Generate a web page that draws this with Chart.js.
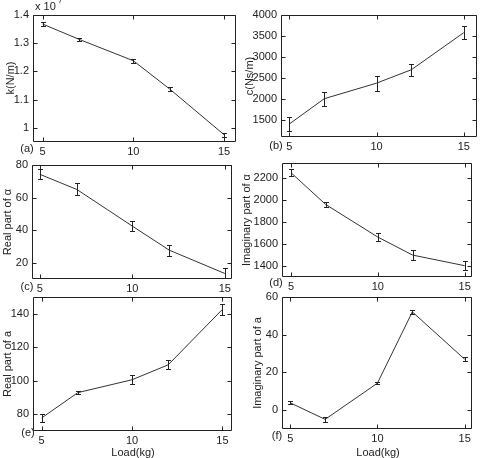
<!DOCTYPE html>
<html>
<head>
<meta charset="utf-8">
<script src="https://cdn.jsdelivr.net/npm/chart.js@4.4.1/dist/chart.umd.min.js"></script>
<style>
html, body { margin: 0; padding: 0; background: #fff; }
#figure { position: relative; width: 483px; height: 458px; overflow: hidden; background: #fff; }
#figure canvas { position: absolute; }
</style>
</head>
<body>
<div id="figure"></div>
<script>
var loads = [5, 7, 10, 12, 15];
var xTicks = [5, 10, 15];

var kValues = [1.368, 1.314, 1.238, 1.138, 0.976];   // x 10^7
var kErrors = [0.007, 0.005, 0.007, 0.007, 0.007];

var cValues = [1410, 2010, 2380, 2700, 3580];
var cErrors = [170, 170, 175, 140, 150];

var realAlpha = [74.3, 65.0, 42.5, 27.7, 13.4];
var realAlphaErr = [3, 3.7, 3, 3.4, 3.5];

var imagAlpha = [2251, 1961, 1664, 1500, 1403];
var imagAlphaErr = [32, 20, 40, 45, 40];

var realA = [77.8, 92.9, 100.6, 109.5, 142.6];
var realAErr = [2.5, 1, 2.8, 2.7, 3.3];

var imagA = [3.9, -4.9, 14.3, 52.1, 27.0];
var imagAErr = [0.8, 1.3, 0.6, 0.9, 1];

var kTicks = [1, 1.1, 1.2, 1.3, 1.4];
var cTicks = [1500, 2000, 2500, 3000, 3500, 4000];
var realAlphaTicks = [20, 40, 60, 80];
var imagAlphaTicks = [1400, 1600, 1800, 2000, 2200];
var realATicks = [80, 100, 120, 140];
var imagATicks = [0, 20, 40, 60];

var FONT = '"Liberation Sans", Arial, sans-serif';
var INK = '#222';
var M = { left: 40, top: 16, right: 6, bottom: 30 };

// box = plot area in page pixels [left, top, right, bottom]
var panels = [
  { tag: '(a)', values: kValues, errors: kErrors, yTicks: kTicks,
    box: [33, 15, 236, 142], xRange: [4.47, 15.66], yRange: [0.95, 1.4],
    yTitle: 'k(N/m)', yTitlePos: [11, 78], tagPos: [27, 149], exponent: true },
  { tag: '(b)', values: cValues, errors: cErrors, yTicks: cTicks,
    box: [281, 15, 477, 137], xRange: [4.52, 15.76], yRange: [1100, 4000],
    yTitle: 'c(Ns/m)', yTitlePos: [250, 76], tagPos: [276, 146] },
  { tag: '(c)', values: realAlpha, errors: realAlphaErr, yTicks: realAlphaTicks,
    box: [32, 165, 232, 279], xRange: [4.58, 15.39], yRange: [10, 80],
    yTitle: 'Real part of \u03b1', yTitlePos: [8, 222], tagPos: [27, 287] },
  { tag: '(d)', values: imagAlpha, errors: imagAlphaErr, yTicks: imagAlphaTicks,
    box: [282, 163, 472, 277], xRange: [4.48, 15.42], yRange: [1300, 2340],
    yTitle: 'Imaginary part of \u03b1', yTitlePos: [247, 220], tagPos: [276, 283] },
  { tag: '(e)', values: realA, errors: realAErr, yTicks: realATicks,
    box: [33, 297, 232, 431], xRange: [4.52, 15.53], yRange: [70, 150],
    yTitle: 'Real part of a', yTitlePos: [8, 364], tagPos: [28, 433], xTitle: [133, 453] },
  { tag: '(f)', values: imagA, errors: imagAErr, yTicks: imagATicks,
    box: [282, 297, 472, 429], xRange: [4.53, 15.42], yRange: [-10, 60],
    yTitle: 'Imaginary part of a', yTitlePos: [258, 363], tagPos: [277, 436], xTitle: [378, 453] }
];

function makeFrame(p, ox, oy) {
  return {
    id: 'frame',
    afterDatasetsDraw: function (chart) {
      var ctx = chart.ctx, a = chart.chartArea;
      var xs = chart.scales.x, ys = chart.scales.y;
      ctx.save();
      ctx.strokeStyle = INK;
      ctx.lineWidth = 1;

      // error bars
      ctx.save();
      ctx.beginPath();
      ctx.rect(a.left, a.top, a.width, a.height);
      ctx.clip();
      ctx.beginPath();
      p.values.forEach(function (v, i) {
        var px = Math.round(xs.getPixelForValue(loads[i])) + 0.5;
        var hi = Math.round(ys.getPixelForValue(v + p.errors[i])) + 0.5;
        var lo = Math.round(ys.getPixelForValue(v - p.errors[i])) + 0.5;
        ctx.moveTo(px, hi); ctx.lineTo(px, lo);
        ctx.moveTo(px - 2.5, hi); ctx.lineTo(px + 2.5, hi);
        ctx.moveTo(px - 2.5, lo); ctx.lineTo(px + 2.5, lo);
      });
      ctx.stroke();
      ctx.restore();

      // box and inward ticks
      var L = Math.round(a.left) + 0.5, R = Math.round(a.right) - 0.5;
      var T = Math.round(a.top) + 0.5, B = Math.round(a.bottom) - 0.5;
      ctx.beginPath();
      ctx.rect(L, T, R - L, B - T);
      xTicks.forEach(function (t) {
        var px = Math.round(xs.getPixelForValue(t)) + 0.5;
        ctx.moveTo(px, B); ctx.lineTo(px, B - 4);
        ctx.moveTo(px, T); ctx.lineTo(px, T + 4);
      });
      p.yTicks.forEach(function (t) {
        var py = Math.round(ys.getPixelForValue(t)) + 0.5;
        ctx.moveTo(L, py); ctx.lineTo(L + 4, py);
        ctx.moveTo(R, py); ctx.lineTo(R - 4, py);
      });
      ctx.stroke();

      // texts
      ctx.fillStyle = INK;
      ctx.font = '11px ' + FONT;
      ctx.textAlign = 'center';
      ctx.textBaseline = 'middle';
      ctx.fillText(p.tag, p.tagPos[0] - ox, p.tagPos[1] - oy);
      if (p.xTitle) ctx.fillText('Load(kg)', p.xTitle[0] - ox, p.xTitle[1] - oy);
      if (p.exponent) {
        ctx.textAlign = 'left';
        ctx.fillText('x 10', 35 - ox, 7 - oy);
        ctx.font = '8px ' + FONT;
        ctx.fillText('7', 58 - ox, 1 - oy);
        ctx.font = '11px ' + FONT;
        ctx.textAlign = 'center';
      }
      ctx.translate(p.yTitlePos[0] - ox, p.yTitlePos[1] - oy);
      ctx.rotate(-Math.PI / 2);
      ctx.fillText(p.yTitle, 0, 0);
      ctx.restore();
    }
  };
}

var fig = document.getElementById('figure');

panels.forEach(function (p) {
  var w = p.box[2] - p.box[0] + M.left + M.right;
  var h = p.box[3] - p.box[1] + M.top + M.bottom;
  var ox = p.box[0] - M.left, oy = p.box[1] - M.top;
  var cv = document.createElement('canvas');
  cv.width = w; cv.height = h;
  cv.style.left = ox + 'px'; cv.style.top = oy + 'px';
  cv.style.width = w + 'px'; cv.style.height = h + 'px';
  fig.appendChild(cv);

  new Chart(cv, {
    type: 'line',
    data: {
      datasets: [{
        data: p.values.map(function (v, i) { return { x: loads[i], y: v }; }),
        borderColor: '#333',
        borderWidth: 1,
        pointRadius: 0,
        tension: 0,
        fill: false
      }]
    },
    options: {
      responsive: false,
      animation: false,
      devicePixelRatio: 1,
      layout: { padding: { top: M.top, right: M.right, left: 0, bottom: 0 } },
      plugins: { legend: { display: false }, tooltip: { enabled: false } },
      scales: {
        x: {
          type: 'linear',
          min: p.xRange[0], max: p.xRange[1],
          grid: { display: false, drawTicks: false },
          border: { display: false },
          afterBuildTicks: function (s) { s.ticks = xTicks.map(function (v) { return { value: v }; }); },
          afterFit: function (s) { s.height = M.bottom; },
          ticks: { color: INK, font: { family: FONT, size: 11 }, padding: 3, maxRotation: 0,
            callback: function (v) { return String(v); } }
        },
        y: {
          min: p.yRange[0], max: p.yRange[1],
          grid: { display: false, drawTicks: false },
          border: { display: false },
          afterBuildTicks: function (s) { s.ticks = p.yTicks.map(function (v) { return { value: v }; }); },
          afterFit: function (s) { s.width = M.left; },
          ticks: { color: INK, font: { family: FONT, size: 11 }, padding: 4,
            callback: function (v) { return String(v); } }
        }
      }
    },
    plugins: [makeFrame(p, ox, oy)]
  });
});
</script>
</body>
</html>
